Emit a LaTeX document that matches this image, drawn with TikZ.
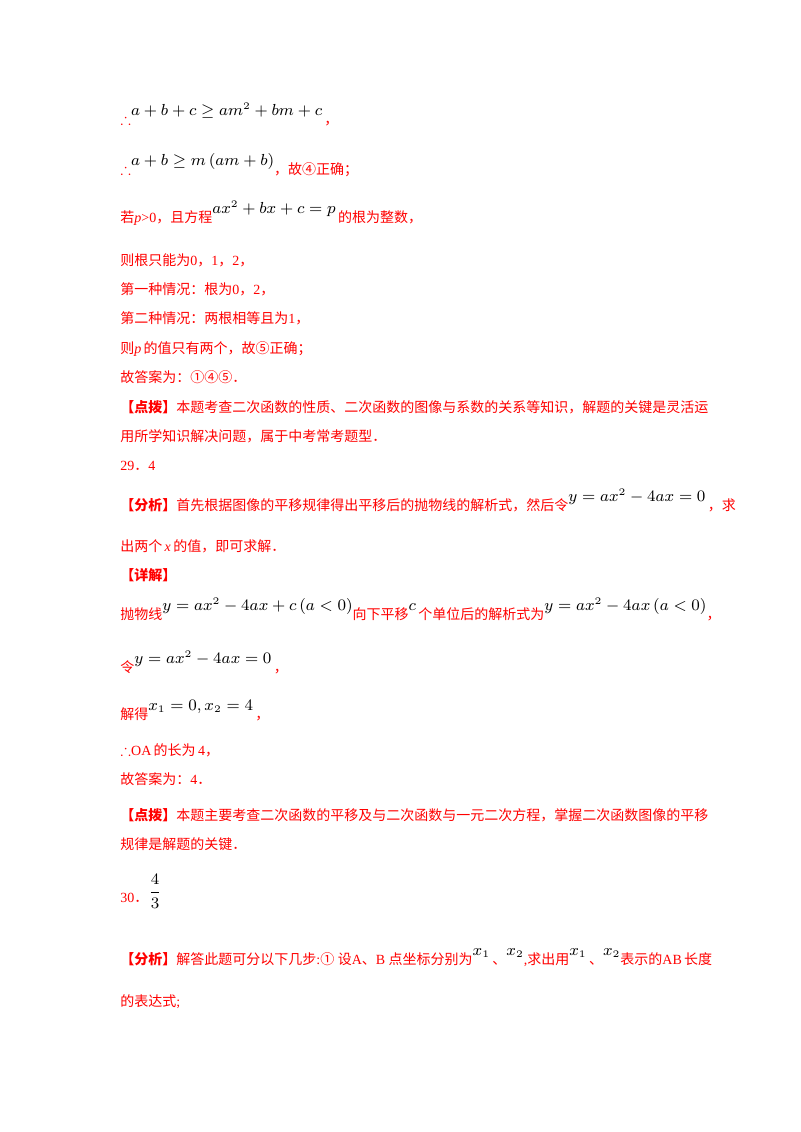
\documentclass[tikz,border=0pt]{standalone}
\usepackage{amsmath,amssymb}
\usepackage{fontspec}
\setmainfont{Liberation Serif}
\newfontfamily\cjk{Noto Sans CJK SC}
\definecolor{rd}{RGB}{255,0,0}
\newcommand{\R}[1]{\raisebox{4.5pt}{\fontsize{7.6}{9}\selectfont\color{black}$#1$}}
\newcommand{\C}[1]{{\cjk #1}}
\begin{document}
\begin{tikzpicture}[x=0.5pt,y=-0.5pt,
  ln/.style={anchor=base west,inner sep=0pt,text=rd,font=\fontsize{7}{8}\selectfont}]
\useasboundingbox (0,0) rectangle (800,1132);
\node[ln] (l1) at (120,124) {$\therefore$\R{a+b+c\geq am^2+bm+c}\,\C{，}};
\node[ln] (l2) at (120,174) {$\therefore$\R{a+b\geq m\left(am+b\right)}\C{，故④正确；}};
\node[ln] (l3) at (120,222) {\C{若}\textit{p}>0\C{，且方程}\R{ax^2+bx+c=p}\,\C{的根为整数，}};
\node[ln] (l4) at (120,265) {\C{则根只能为}0\C{，}1\C{，}2\C{，}};
\node[ln] (l5) at (120,294) {\C{第一种情况：根为}0\C{，}2\C{，}};
\node[ln] (l6) at (120,323) {\C{第二种情况：两根相等且为}1\C{，}};
\node[ln] (l7) at (120,353) {\C{则}\textit{p}\,\C{的值只有两个，故⑤正确；}};
\node[ln] (l8) at (120,382) {\C{故答案为：①④⑤．}};
\node[ln] (l9) at (120,412) {\textbf{\C{【点拨】}}\C{本题考查二次函数的性质、二次函数的图像与系数的关系等知识，解题的关键是灵活运}};
\node[ln] (l10) at (120,441) {\C{用所学知识解决问题，属于中考常考题型．}};
\node[ln] (l11) at (120,470) {29\C{．}4};
\node[ln] (l12) at (120,510) {\textbf{\C{【分析】}}\C{首先根据图像的平移规律得出平移后的抛物线的解析式，然后令}\R{y=ax^2-4ax=0}\,\C{，求}};
\node[ln] (l13) at (120,551) {\C{出两个}\,\textit{x}\,\C{的值，即可求解．}};
\node[ln] (l14) at (120,580) {\textbf{\C{【详解】}}};
\node[ln] (l15) at (120,619) {\C{抛物线}\R{y=ax^2-4ax+c\left(a<0\right)}\C{向下平移}\R{c}\,\C{个单位后的解析式为}\R{y=ax^2-4ax\left(a<0\right)}\C{，}};
\node[ln] (l16) at (120,672) {\C{令}\R{y=ax^2-4ax=0}\,\C{，}};
\node[ln] (l17) at (120,719) {\C{解得}\R{x_1=0,x_2=4}\,\C{，}};
\node[ln] (l18) at (120,755) {$\therefore$OA\,\C{的长为}\,4\C{，}};
\node[ln] (l19) at (120,784) {\C{故答案为：}4\C{．}};
\node[ln] (l20) at (120,820) {\textbf{\C{【点拨】}}\C{本题主要考查二次函数的平移及与二次函数与一元二次方程，掌握二次函数图像的平移}};
\node[ln] (l21) at (120,849) {\C{规律是解题的关键．}};
\node[ln] (l22) at (120,902) {30\C{．}\raisebox{3pt}{\fontsize{7.6}{9}\selectfont\color{black}$\dfrac{4}{3}$}};
\node[ln] (l23) at (120,964) {\textbf{\C{【分析】}}\C{解答此题可分以下几步}:\C{①} \C{设}A\C{、}B \C{点坐标分别为}\R{x_1}\,\C{、}\R{x_2},\C{求出用}\R{x_1}\,\C{、}\R{x_2}\C{表示的}AB\,\C{长度}};
\node[ln] (l24) at (120,1006) {\C{的表达式};};
\end{tikzpicture}
\end{document}
